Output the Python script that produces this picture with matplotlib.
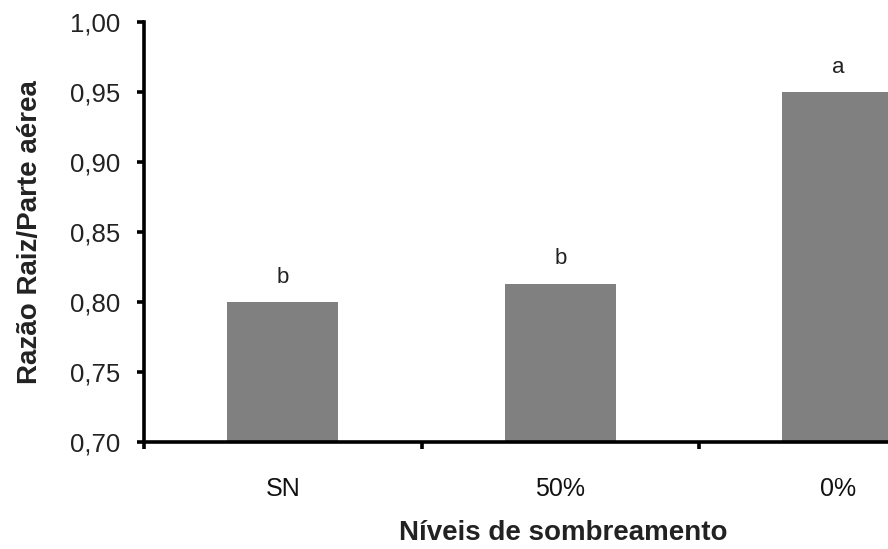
import matplotlib
matplotlib.use('Agg')
import matplotlib.pyplot as plt
import numpy as np

plt.rcParams['font.family'] = ['Liberation Sans', 'DejaVu Sans']

categories = ['SN', '50%', '0%']
ratio = [0.800, 0.813, 0.950]
letters = ['b', 'b', 'a']
y_ticks = [0.70, 0.75, 0.80, 0.85, 0.90, 0.95, 1.00]

fig = plt.figure(figsize=(8.88, 5.49), dpi=100, facecolor='white')
ax = fig.add_axes([144/888, 107/549, 744/888, 420/549])

x = np.arange(len(categories))
ax.bar(x, [r - 0.70 for r in ratio], bottom=0.70, width=0.40, color='#808080', zorder=2)
for xi, r, lt in zip(x, ratio, letters):
    ax.annotate(lt, (xi, r), xytext=(0, 18), textcoords='offset points',
                ha='center', va='center', fontsize=16, color='#222222')

ax.set_xlim(-0.5, 2.181)
ax.set_ylim(0.70, 1.00)
ax.set_yticks(y_ticks)
ax.set_yticklabels([f'{v:.2f}'.replace('.', ',') for v in y_ticks])

ax.set_xticks([-0.5, 0.5, 1.5])
ax.set_xticklabels([])
ax.set_xticks(x, minor=True)
ax.set_xticklabels(categories, minor=True)

for s in ['top', 'right']:
    ax.spines[s].set_visible(False)
for s in ['left', 'bottom']:
    ax.spines[s].set_linewidth(2.6)
    ax.spines[s].set_color('black')

ax.tick_params(axis='y', which='major', direction='out', length=5, width=2.6,
               labelsize=18.5, labelcolor='#222222', pad=12)
ax.tick_params(axis='x', which='major', direction='out', length=5, width=2.6)
ax.tick_params(axis='x', which='minor', length=0, pad=25, labelsize=18, labelcolor='#111111')

fig.text(563/888, 1 - 533/549, 'Níveis de sombreamento', ha='center', va='center',
         fontsize=20, fontweight='bold', color='#222222')
fig.text(30/888, 1 - 232/549, 'Razão Raiz/Parte aérea', ha='center', va='center',
         rotation=90, fontsize=20, fontweight='bold', color='#222222')

fig.savefig('out.png', dpi=100, facecolor='white')
